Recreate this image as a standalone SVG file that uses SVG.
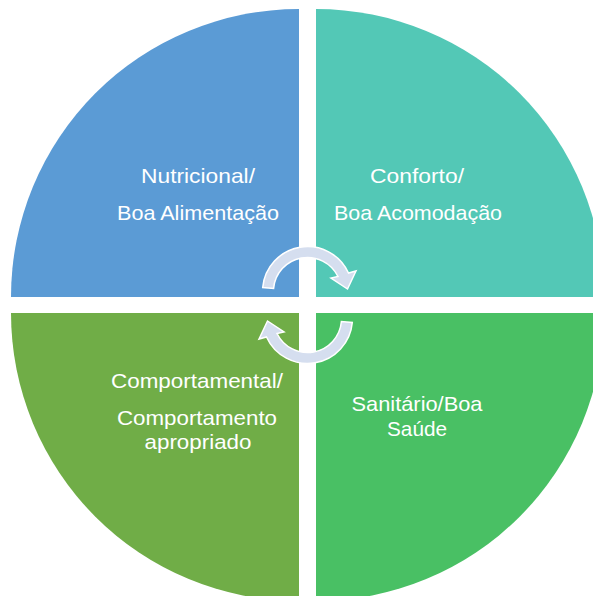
<svg xmlns="http://www.w3.org/2000/svg" width="593" height="596" viewBox="0 0 593 596">
<style>
.lbl{font-family:"Liberation Sans","Open Sans",Arial,sans-serif;font-size:21px;fill:#ffffff;text-anchor:middle}
.arrow{fill:#D5DEEF;stroke:#ffffff;stroke-width:1.5;stroke-linejoin:miter}
</style>
<rect width="593" height="596" fill="#ffffff"/>
<g id="node-nutricional">
<path d="M299 297 L11 297 A288 288 0 0 1 299 9 Z" fill="#5B9BD5"/>
<text class="lbl" x="198" y="183" textLength="114" lengthAdjust="spacingAndGlyphs">Nutricional/</text>
<text class="lbl" x="198" y="220" textLength="162" lengthAdjust="spacingAndGlyphs">Boa Alimentação</text>
</g>
<g id="node-conforto">
<path d="M316 297 L316 9 A288 288 0 0 1 604 297 Z" fill="#53C8B6"/>
<text class="lbl" x="417" y="183" textLength="94" lengthAdjust="spacingAndGlyphs">Conforto/</text>
<text class="lbl" x="418" y="220" textLength="168" lengthAdjust="spacingAndGlyphs">Boa Acomodação</text>
</g>
<g id="node-comportamental">
<path d="M299 313 L299 601 A288 288 0 0 1 11 313 Z" fill="#70AD47"/>
<text class="lbl" x="197" y="388" textLength="172" lengthAdjust="spacingAndGlyphs">Comportamental/</text>
<text class="lbl" x="197" y="425" textLength="160" lengthAdjust="spacingAndGlyphs">Comportamento</text>
<text class="lbl" x="198" y="449" textLength="107" lengthAdjust="spacingAndGlyphs">apropriado</text>
</g>
<g id="node-sanitario">
<path d="M316 313 L604 313 A288 288 0 0 1 316 601 Z" fill="#49C064"/>
<text class="lbl" x="417" y="411" textLength="131" lengthAdjust="spacingAndGlyphs">Sanitário/Boa</text>
<text class="lbl" x="417" y="436" textLength="60" lengthAdjust="spacingAndGlyphs">Saúde</text>
</g>
<g id="connectors">
<path class="arrow" d="M262.7 287.6 A45 45 0 0 1 348.5 273 L356 271 L347.5 289 L331 278 L338 276.5 A34 34 0 0 0 273.6 288.5 Z"/>
<path class="arrow" transform="rotate(180 307.5 305)" d="M262.7 287.6 A45 45 0 0 1 348.5 273 L356 271 L347.5 289 L331 278 L338 276.5 A34 34 0 0 0 273.6 288.5 Z"/>
</g>
</svg>
